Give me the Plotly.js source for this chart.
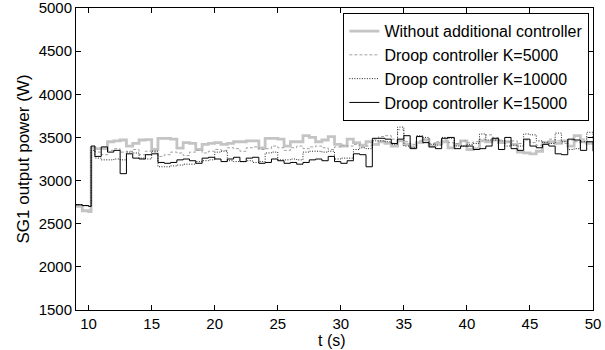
<!DOCTYPE html>
<html>
<head>
<meta charset="utf-8">
<script src="https://cdn.plot.ly/plotly-3.0.1.min.js"></script>
<style>html,body{margin:0;padding:0;background:#fff;}#chart{width:605px;height:350px;}</style>
</head>
<body>
<div id="chart"></div>
<script>
const t = [9, 9.5, 10, 10.1, 10.2,
  10.5, 11, 11.5, 12, 12.5, 13, 13.5, 14, 14.5, 15,
  15.5, 16, 16.5, 17, 17.5, 18, 18.5, 19, 19.5, 20,
  20.5, 21, 21.5, 22, 22.5, 23, 23.5, 24, 24.5, 25,
  25.5, 26, 26.5, 27, 27.5, 28, 28.5, 29, 29.5, 30,
  30.5, 31, 31.5, 32, 32.5, 33, 33.5, 34, 34.5, 35,
  35.5, 36, 36.5, 37, 37.5, 38, 38.5, 39, 39.5, 40,
  40.5, 41, 41.5, 42, 42.5, 43, 43.5, 44, 44.5, 45,
  45.5, 46, 46.5, 47, 47.5, 48, 48.5, 49, 49.5, 50];

const noCtrl = [2700, 2650, 2640, 2640, 3380,
  3370, 3370, 3450, 3460, 3470, 3400, 3430, 3470, 3475, 3360,
  3490, 3490, 3480, 3375, 3440, 3430, 3360, 3420, 3430, 3440,
  3420, 3430, 3450, 3450, 3460, 3460, 3380, 3490, 3490, 3480,
  3400, 3450, 3450, 3520, 3500, 3450, 3470, 3510, 3420, 3400,
  3480, 3440, 3410, 3450, 3420, 3450, 3430, 3400, 3460, 3420,
  3390, 3440, 3470, 3400, 3430, 3450, 3380, 3420, 3460, 3360,
  3370, 3460, 3450, 3470, 3440, 3450, 3420, 3330, 3320, 3310,
  3340, 3440, 3450, 3430, 3460, 3400, 3520, 3450, 3430, 3420];

const k5000 = [2720, 2710, 2700, 2700, 3400,
  3330, 3300, 3350, 3370, 3330, 3340, 3360, 3300, 3340, 3330,
  3280, 3300, 3330, 3320, 3290, 3330, 3350, 3320, 3340, 3360,
  3350, 3380, 3370, 3340, 3380, 3390, 3360, 3370, 3400, 3380,
  3350, 3380, 3400, 3370, 3390, 3400, 3380, 3360, 3390, 3410,
  3400, 3420, 3390, 3400, 3480, 3510, 3520, 3480, 3590, 3450,
  3420, 3460, 3480, 3430, 3450, 3470, 3440, 3430, 3460, 3440,
  3450, 3480, 3530, 3500, 3470, 3450, 3460, 3430, 3470, 3440,
  3410, 3450, 3480, 3460, 3430, 3470, 3450, 3480, 3500, 3460];

const k10000 = [2720, 2710, 2700, 2700, 3350,
  3260, 3240, 3240, 3250, 3240, 3330, 3320, 3260, 3250, 3340,
  3160, 3160, 3170, 3180, 3190, 3190, 3220, 3230, 3240, 3330,
  3340, 3230, 3220, 3220, 3230, 3210, 3220, 3320, 3330, 3240,
  3240, 3250, 3240, 3330, 3340, 3340, 3330, 3340, 3250, 3260,
  3260, 3360, 3380, 3370, 3460, 3460, 3450, 3420, 3620, 3400,
  3380, 3520, 3500, 3420, 3410, 3500, 3490, 3400, 3400, 3420,
  3430, 3540, 3470, 3470, 3460, 3400, 3410, 3400, 3540, 3530,
  3460, 3440, 3430, 3550, 3450, 3360, 3370, 3450, 3560, 3480];

const k15000 = [2720, 2710, 2700, 2700, 3400,
  3280, 3390, 3330, 3350, 3080, 3310, 3260, 3250, 3300, 3310,
  3210, 3200, 3210, 3240, 3250, 3230, 3200, 3260, 3270, 3250,
  3220, 3250, 3270, 3220, 3260, 3270, 3200, 3210, 3250, 3230,
  3200, 3210, 3190, 3210, 3240, 3250, 3230, 3280, 3220, 3200,
  3230, 3310, 3300, 3160, 3490, 3490, 3480, 3430, 3480, 3520,
  3370, 3510, 3440, 3390, 3370, 3490, 3500, 3370, 3400, 3400,
  3360, 3370, 3400, 3490, 3360, 3500, 3370, 3350, 3480, 3400,
  3380, 3420, 3400, 3310, 3300, 3480, 3470, 3350, 3450, 3340];

const names = ['Without additional controller', 'Droop controller K=5000',
  'Droop controller K=10000', 'Droop controller K=15000'];
const xTitle = 't (s)';
const yTitle = 'SG1 output power (W)';

const fam = 'Arial, "Liberation Sans", sans-serif';
const font = {family: fam, size: 16, color: '#000'};
const tickFont = {family: fam, size: 15, color: '#000'};
const titleFont = {family: fam, size: 17, color: '#000'};

const traces = [
  {x: t, y: noCtrl, name: names[0], mode: 'lines', line: {color: '#c4c4c4', width: 2.8, shape: 'hv'}},
  {x: t, y: k5000, name: names[1], mode: 'lines', line: {color: '#a0a0a0', width: 1, dash: '3px,2px', shape: 'hv'}},
  {x: t, y: k10000, name: names[2], mode: 'lines', line: {color: '#222', width: 1, dash: '1px,1.5px', shape: 'hv'}},
  {x: t, y: k15000, name: names[3], mode: 'lines', line: {color: '#000', width: 1, shape: 'hv'}}
];

const axisCommon = {
  showline: true, linecolor: '#000', linewidth: 1, mirror: 'ticks',
  ticks: 'inside', ticklen: 5, tickcolor: '#000', tickwidth: 1,
  showgrid: false, zeroline: false, tickfont: tickFont, ticklabeloverflow: 'allow'
};

const layout = {
  width: 605, height: 350,
  margin: {l: 76, r: 12, t: 8, b: 40},
  paper_bgcolor: '#fff', plot_bgcolor: '#fff',
  font: font,
  showlegend: true,
  legend: {x: 0.993, y: 0.983, xanchor: 'right', yanchor: 'top',
    bgcolor: '#fff', bordercolor: '#000', borderwidth: 1,
    font: font, tracegroupgap: 0, itemwidth: 30},
  xaxis: Object.assign({}, axisCommon, {range: [9, 50], tickvals: [10, 15, 20, 25, 30, 35, 40, 45, 50]}),
  yaxis: Object.assign({}, axisCommon, {range: [1500, 5000], tickvals: [1500, 2000, 2500, 3000, 3500, 4000, 4500, 5000],
    title: {text: yTitle, font: titleFont, standoff: 4}}),
  annotations: [{text: xTitle, xref: 'paper', x: 0.495, yref: 'paper', y: -40 / 302,
    xanchor: 'center', yanchor: 'bottom', showarrow: false, borderpad: 0,
    font: {family: fam, size: 16, color: '#000'}}]
};

Plotly.newPlot('chart', traces, layout, {displayModeBar: false, staticPlot: true});
</script>
</body>
</html>
